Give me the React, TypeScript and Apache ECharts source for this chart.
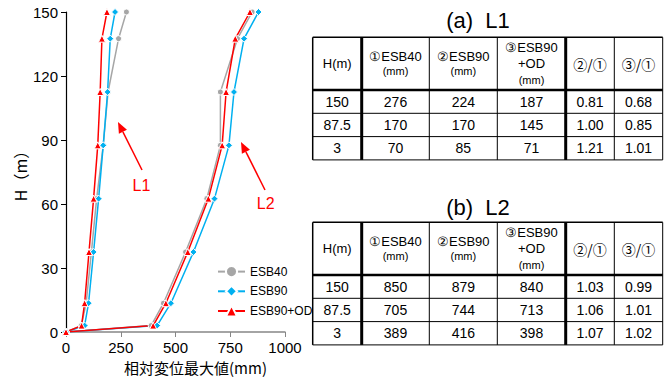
import React, { useEffect, useRef } from "react";
import * as echarts from "echarts";

// ---- chart data ----
const heights = [0, 3, 13.5, 37.5, 62.5, 87.5, 112.5, 137.5, 150];
const l1Esb40 = [0, 70, 92, 116, 140, 170, 192, 240, 276];
const l1Esb90 = [0, 85, 103, 126, 149, 170, 190, 202, 224];
const l1Od = [0, 71, 85, 105, 126, 145, 156, 164, 187];
const l2Esb40 = [0, 389, 445, 546, 643, 705, 705, 783, 850];
const l2Esb90 = [0, 416, 479, 582, 678, 744, 767, 813, 879];
const l2Od = [0, 398, 456, 556, 650, 713, 731, 773, 840];
const seriesNames = ["ESB40", "ESB90", "ESB90+OD"];

// ---- table data ----
const tableHeaders = [["H(m)"], ["①ESB40", "(mm)"], ["②ESB90", "(mm)"], ["③ESB90", "+OD", "(mm)"], ["②/①"], ["③/①"]];
const rowHeights = ["150", "87.5", "3"];
const tA40 = ["276", "170", "70"];
const tA90 = ["224", "170", "85"];
const tAOd = ["187", "145", "71"];
const tAR21 = ["0.81", "1.00", "1.21"];
const tAR31 = ["0.68", "0.85", "1.01"];
const tB40 = ["850", "705", "389"];
const tB90 = ["879", "744", "416"];
const tBOd = ["840", "713", "398"];
const tBR21 = ["1.03", "1.06", "1.07"];
const tBR31 = ["0.99", "1.01", "1.02"];

const GRAY = "#a6a6a6";
const BLUE = "#00b0f0";
const RED = "#ff0000";
const LATIN = "Liberation Sans, Arial, sans-serif";
const CJK = "Noto Sans CJK JP, sans-serif";

const colX = [312.7, 361.7, 429.3, 497.3, 565.7, 614.3, 662.7];
const colW = [1.5, 3, 1, 1, 3, 1, 1];

function buildTable(title: string, top: number, titleY: number, cols: string[][]) {
  const headerBottom = top + 52.7;
  const rowH = 23.3;
  const bottom = headerBottom + rowH * 3;
  const els: any[] = [];
  els.push({
    type: "text",
    x: 478,
    y: titleY,
    style: { text: title, font: `22px ${LATIN}`, fill: "#000", textAlign: "center", textVerticalAlign: "middle" },
  });
  const hl = [
    [top, 1.5],
    [headerBottom, 2.5],
    [headerBottom + rowH, 1],
    [headerBottom + rowH * 2, 1],
    [bottom, 1],
  ];
  hl.forEach(([y, w]) =>
    els.push({ type: "line", shape: { x1: colX[0], y1: y, x2: colX[6], y2: y }, style: { stroke: "#000", lineWidth: w } })
  );
  colX.forEach((x, i) =>
    els.push({ type: "line", shape: { x1: x, y1: top, x2: x, y2: bottom }, style: { stroke: "#000", lineWidth: colW[i] } })
  );
  const hc = (top + headerBottom) / 2;
  for (let c = 0; c < 6; c++) {
    const cx = (colX[c] + colX[c + 1]) / 2;
    const lines = tableHeaders[c];
    const gap = lines.length === 3 ? 16.5 : 15;
    lines.forEach((ln, k) => {
      const font = c >= 4 ? `14px ${CJK}` : `${ln === "(mm)" ? 11 : 13}px ${LATIN}`;
      els.push({
        type: "text",
        x: cx,
        y: hc + (k - (lines.length - 1) / 2) * gap,
        style: { text: ln, font, fill: "#000", textAlign: "center", textVerticalAlign: "middle" },
      });
    });
    for (let r = 0; r < 3; r++) {
      els.push({
        type: "text",
        x: cx,
        y: headerBottom + rowH * (r + 0.5),
        style: { text: cols[c][r], font: `14px ${LATIN}`, fill: "#000", textAlign: "center", textVerticalAlign: "middle" },
      });
    }
  }
  return els;
}

function arrow(tx: number, ty: number, hx: number, hy: number) {
  const dx = hx - tx, dy = hy - ty;
  const len = Math.sqrt(dx * dx + dy * dy);
  const ux = dx / len, uy = dy / len;
  const hl = 11, hw = 4.5;
  const bx = hx - ux * hl, by = hy - uy * hl;
  const px = -uy, py = ux;
  return [
    { type: "line", shape: { x1: tx, y1: ty, x2: bx, y2: by }, style: { stroke: RED, lineWidth: 1.5 } },
    {
      type: "polygon",
      shape: { points: [[hx, hy], [bx + px * hw, by + py * hw], [bx - px * hw, by - py * hw]] },
      style: { fill: RED },
    },
  ];
}

function lineSeries(name: string, xs: number[], color: string, symbol: string, size: number) {
  return {
    type: "line",
    name,
    data: heights.map((h, i) => [xs[i], h]),
    symbol,
    symbolSize: size,
    lineStyle: { color, width: 1.5 },
    itemStyle: { color, borderColor: "#fff", borderWidth: 1 },
    emphasis: { disabled: true },
  };
}

export default function App() {
  const ref = useRef<HTMLDivElement>(null);
  useEffect(() => {
    if (!ref.current) return;
    const chart = echarts.init(ref.current, null, { renderer: "svg" });
    const graphics: any[] = [
      ...buildTable("(a)  L1", 37.3, 20, [rowHeights, tA40, tA90, tAOd, tAR21, tAR31]),
      ...buildTable("(b)  L2", 222.3, 207, [rowHeights, tB40, tB90, tBOd, tBR21, tBR31]),
      ...arrow(142, 170, 118, 122),
      ...arrow(265, 190, 241, 142),
      { type: "text", x: 141.5, y: 185.5, style: { text: "L1", font: `16px ${LATIN}`, fill: RED, textAlign: "center", textVerticalAlign: "middle" } },
      { type: "text", x: 265.7, y: 203.7, style: { text: "L2", font: `16px ${LATIN}`, fill: RED, textAlign: "center", textVerticalAlign: "middle" } },
    ];
    chart.setOption({
      animation: false,
      backgroundColor: "#fff",
      grid: { left: 66, top: 12, width: 219, height: 320, containLabel: false, outerBoundsMode: "none" },
      xAxis: {
        type: "value",
        min: 0,
        max: 1000,
        interval: 250,
        axisLine: { show: true, lineStyle: { color: "#868686", width: 1.5 } },
        axisTick: { show: true, inside: false, length: 5, lineStyle: { color: "#868686", width: 1 } },
        splitLine: { show: false },
        axisLabel: { fontSize: 15, color: "#000", margin: 8, fontFamily: LATIN, formatter: (v: number) => String(v) },
        name: "相対変位最大値(mm)",
        nameLocation: "middle",
        nameGap: 26,
        nameTextStyle: { fontSize: 15, color: "#000", fontFamily: CJK, padding: [0, 0, 0, 40] },
      },
      yAxis: {
        type: "value",
        min: 0,
        max: 150,
        interval: 30,
        axisLine: { show: true, lineStyle: { color: "#000", width: 1.2 } },
        axisTick: { show: true, inside: false, length: 5, lineStyle: { color: "#000", width: 1 } },
        splitLine: { show: false },
        axisLabel: { fontSize: 15, color: "#000", margin: 8, fontFamily: LATIN },
        name: "H（m）",
        nameLocation: "middle",
        nameGap: 38,
        nameRotate: 90,
        nameTextStyle: { fontSize: 16, color: "#000", fontFamily: CJK },
      },
      legend: {
        data: seriesNames,
        orient: "vertical",
        left: 212,
        top: 260,
        itemWidth: 27,
        itemHeight: 14,
        itemGap: 6.5,
        textStyle: { fontSize: 12, color: "#000", fontFamily: LATIN },
      },
      series: [
        lineSeries(seriesNames[0], l1Esb40, GRAY, "circle", 6),
        lineSeries(seriesNames[1], l1Esb90, BLUE, "diamond", 7),
        lineSeries(seriesNames[2], l1Od, RED, "triangle", 7),
        lineSeries(seriesNames[0], l2Esb40, GRAY, "circle", 6),
        lineSeries(seriesNames[1], l2Esb90, BLUE, "diamond", 7),
        lineSeries(seriesNames[2], l2Od, RED, "triangle", 7),
      ],
      graphic: { elements: graphics },
    });
    return () => chart.dispose();
  }, []);
  return <div ref={ref} style={{ position: "absolute", left: 0, top: 0, width: 672, height: 380 }} />;
}
